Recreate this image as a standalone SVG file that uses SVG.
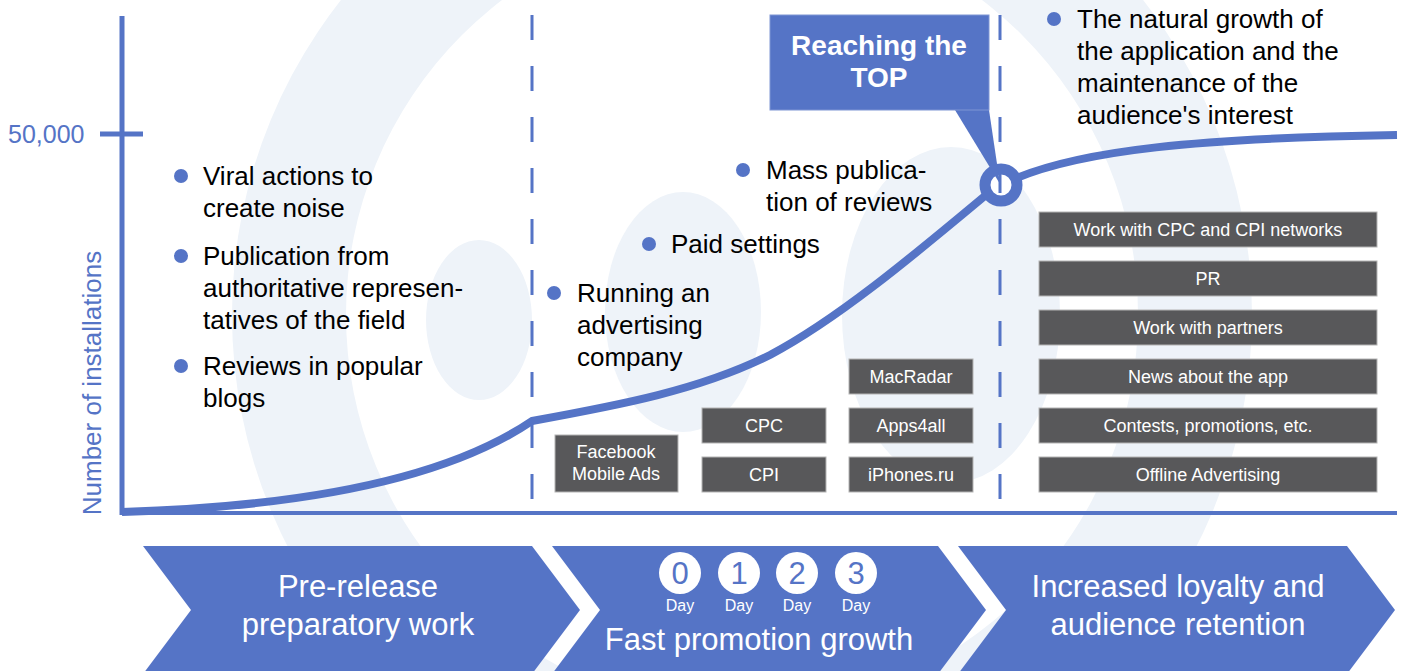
<svg xmlns="http://www.w3.org/2000/svg" width="1402" height="671" viewBox="0 0 1402 671">
<style>
text{font-family:"Liberation Sans",Arial,sans-serif}
.bg{fill:#EEF3F9}
.ax{stroke:#5574C6;fill:none}
.dash{stroke:#5574C6;stroke-width:3;stroke-dasharray:25 26;fill:none}
.bul{fill:#5574C6}
.t{font-size:26px;fill:#000}
.box{fill:#58585A;stroke:#B4B4B4;stroke-width:1}
.bt{font-size:18px;fill:#fff;text-anchor:middle}
.chev{fill:#5574C6}
.ct{font-size:31px;fill:#fff;text-anchor:middle}
.day{fill:#fff}
.dn{font-size:31px;fill:#5574C6;text-anchor:middle}
.dl{font-size:16px;fill:#fff;text-anchor:middle}
</style>
<rect width="1402" height="671" fill="#fff"/>
<g id="background">
<path class="bg" fill-rule="evenodd" d="M232,315 a510,510 0 1,0 1020,0 a510,510 0 1,0 -1020,0 Z M346,315 a396,396 0 1,0 792,0 a396,396 0 1,0 -792,0 Z"/>
<ellipse class="bg" cx="479" cy="320" rx="53" ry="80"/>
<ellipse class="bg" cx="683" cy="312" rx="78" ry="120"/>
<ellipse class="bg" cx="951" cy="315" rx="109" ry="168"/>
</g>
<g id="axes">
<line class="ax" x1="122" y1="16" x2="122" y2="515" stroke-width="5"/>
<line class="ax" x1="120" y1="513" x2="1397" y2="513" stroke-width="4"/>
<line class="ax" x1="100" y1="134" x2="143" y2="134" stroke-width="5"/>
<text x="8" y="143" font-size="25" fill="#5574C6">50,000</text>
<text transform="translate(101,383) rotate(-90)" font-size="26" fill="#5574C6" text-anchor="middle">Number of installations</text>
</g>
<g id="connectors">
<path class="ax" stroke-width="8" stroke-linejoin="round" d="M122,512 C260,508 430,490 532,421 C620,405 700,390 770,355 C840,318 920,250 992,190"/>
<path class="ax" stroke-width="8" d="M1012,180 C1080,150 1200,138 1397,135"/>
<circle cx="1001" cy="185" r="16" fill="#fff" stroke="#5574C6" stroke-width="11"/>
<polygon points="955,110 989,110 1000,184" fill="#5574C6"/>
</g>
<g id="callout">
<rect x="770" y="15" width="219" height="95" fill="#5574C6" stroke="#7F95D4" stroke-width="1"/>
<text x="879" y="55" font-size="28" font-weight="bold" fill="#fff" text-anchor="middle">Reaching the</text>
<text x="879" y="87" font-size="28" font-weight="bold" fill="#fff" text-anchor="middle">TOP</text>
</g>
<g id="dividers">
<line class="dash" x1="532" y1="15" x2="532" y2="513"/>
<line class="dash" x1="1000" y1="15" x2="1000" y2="513"/>
</g>
<g id="prerelease-bullets">
<circle class="bul" cx="181" cy="176" r="7"/>
<text class="t" x="203" y="185">Viral actions to</text>
<text class="t" x="203" y="217">create noise</text>
<circle class="bul" cx="181" cy="256" r="7"/>
<text class="t" x="203" y="265">Publication from</text>
<text class="t" x="203" y="297">authoritative represen-</text>
<text class="t" x="203" y="329">tatives of the field</text>
<circle class="bul" cx="181" cy="366" r="7"/>
<text class="t" x="203" y="375">Reviews in popular</text>
<text class="t" x="203" y="407">blogs</text>
</g>
<g id="promo-bullets">
<circle class="bul" cx="554" cy="293" r="7"/>
<text class="t" x="577" y="302">Running an</text>
<text class="t" x="577" y="334">advertising</text>
<text class="t" x="577" y="366">company</text>
<circle class="bul" cx="649" cy="244" r="7"/>
<text class="t" x="671" y="253">Paid settings</text>
<circle class="bul" cx="743" cy="170" r="7"/>
<text class="t" x="766" y="179">Mass publica-</text>
<text class="t" x="766" y="211">tion of reviews</text>
</g>
<g id="retention-bullets">
<circle class="bul" cx="1054" cy="19" r="7"/>
<text class="t" x="1077" y="28">The natural growth of</text>
<text class="t" x="1077" y="60">the application and the</text>
<text class="t" x="1077" y="92">maintenance of the</text>
<text class="t" x="1077" y="124">audience's interest</text>
</g>
<g id="box-facebook"><rect class="box" x="555" y="435" width="123" height="57"/><text class="bt" x="616" y="458">Facebook</text><text class="bt" x="616" y="480">Mobile Ads</text></g>
<g id="box-cpc"><rect class="box" x="702" y="408" width="124" height="35"/><text class="bt" x="764" y="432">CPC</text></g>
<g id="box-cpi"><rect class="box" x="702" y="457" width="124" height="35"/><text class="bt" x="764" y="481">CPI</text></g>
<g id="box-macradar"><rect class="box" x="849" y="359" width="124" height="35"/><text class="bt" x="911" y="383">MacRadar</text></g>
<g id="box-apps4all"><rect class="box" x="849" y="408" width="124" height="35"/><text class="bt" x="911" y="432">Apps4all</text></g>
<g id="box-iphones"><rect class="box" x="849" y="457" width="124" height="35"/><text class="bt" x="911" y="481">iPhones.ru</text></g>
<g id="box-networks"><rect class="box" x="1039" y="212" width="338" height="35"/><text class="bt" x="1208" y="236">Work with CPC and CPI networks</text></g>
<g id="box-pr"><rect class="box" x="1039" y="261" width="338" height="35"/><text class="bt" x="1208" y="285">PR</text></g>
<g id="box-partners"><rect class="box" x="1039" y="310" width="338" height="35"/><text class="bt" x="1208" y="334">Work with partners</text></g>
<g id="box-news"><rect class="box" x="1039" y="359" width="338" height="35"/><text class="bt" x="1208" y="383">News about the app</text></g>
<g id="box-contests"><rect class="box" x="1039" y="408" width="338" height="35"/><text class="bt" x="1208" y="432">Contests, promotions, etc.</text></g>
<g id="box-offline"><rect class="box" x="1039" y="457" width="338" height="35"/><text class="bt" x="1208" y="481">Offline Advertising</text></g>
<g id="stage-prerelease">
<path class="chev" d="M143,546 L532,546 L580,610 L532,674 L143,674 L191,610 Z"/>
<text class="ct" x="358" y="597">Pre-release</text>
<text class="ct" x="358" y="635">preparatory work</text>
</g>
<g id="stage-promotion">
<path class="chev" d="M552,546 L938,546 L986,610 L938,674 L552,674 L600,610 Z"/>
<circle class="day" cx="680" cy="573" r="21"/><text class="dn" x="680" y="584">0</text><text class="dl" x="680" y="611">Day</text>
<circle class="day" cx="739" cy="573" r="21"/><text class="dn" x="739" y="584">1</text><text class="dl" x="739" y="611">Day</text>
<circle class="day" cx="797" cy="573" r="21"/><text class="dn" x="797" y="584">2</text><text class="dl" x="797" y="611">Day</text>
<circle class="day" cx="856" cy="573" r="21"/><text class="dn" x="856" y="584">3</text><text class="dl" x="856" y="611">Day</text>
<text class="ct" x="759" y="650">Fast promotion growth</text>
</g>
<g id="stage-retention">
<path class="chev" d="M958,546 L1347,546 L1395,610 L1347,674 L958,674 L1006,610 Z"/>
<text class="ct" x="1178" y="597">Increased loyalty and</text>
<text class="ct" x="1178" y="635">audience retention</text>
</g>
</svg>
